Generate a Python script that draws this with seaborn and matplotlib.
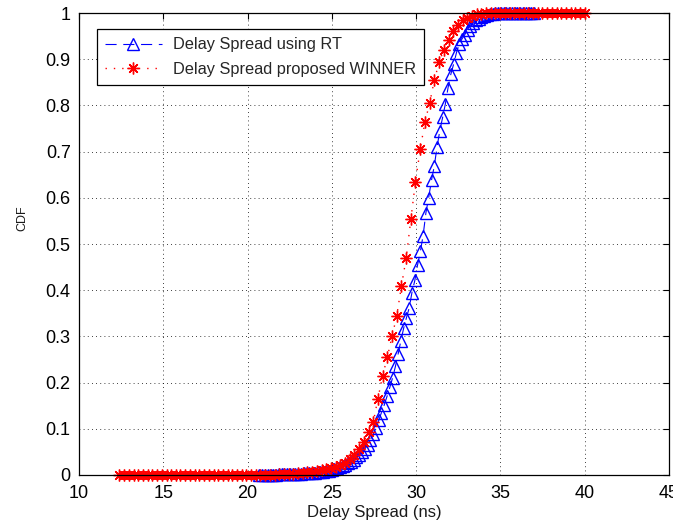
import numpy as np
import pandas as pd
import matplotlib
matplotlib.use("Agg")
import matplotlib.pyplot as plt
import seaborn as sns

# ── dados ────────────────────────────────────────────────────────────────────
rt_x = [20.70, 20.86, 21.03, 21.19, 21.36, 21.52, 21.69, 21.85, 22.02, 22.18,
        22.35, 22.51, 22.68, 22.84, 23.00, 23.17, 23.33, 23.50, 23.66, 23.83,
        23.99, 24.16, 24.32, 24.49, 24.65, 24.81, 24.98, 25.14, 25.31, 25.47,
        25.64, 25.80, 25.97, 26.13, 26.30, 26.46, 26.63, 26.79, 26.95, 27.12,
        27.28, 27.45, 27.61, 27.78, 27.94, 28.11, 28.27, 28.44, 28.60, 28.77,
        28.93, 29.09, 29.26, 29.42, 29.59, 29.75, 29.92, 30.08, 30.25, 30.41,
        30.58, 30.74, 30.91, 31.07, 31.24, 31.40, 31.57, 31.73, 31.89, 32.06,
        32.22, 32.39, 32.55, 32.72, 32.88, 33.05, 33.21, 33.38, 33.54, 33.71,
        33.87, 34.03, 34.20, 34.36, 34.53, 34.69, 34.86, 35.02, 35.19, 35.35,
        35.52, 35.68, 35.85, 36.01, 36.18, 36.34, 36.51, 36.67, 36.84, 37.00]
rt_cdf = [0.000, 0.000, 0.001, 0.001, 0.001, 0.001, 0.001, 0.002, 0.002, 0.002,
          0.002, 0.002, 0.003, 0.003, 0.003, 0.003, 0.004, 0.004, 0.004, 0.005,
          0.005, 0.006, 0.006, 0.007, 0.008, 0.009, 0.011, 0.013, 0.015, 0.017,
          0.020, 0.022, 0.026, 0.029, 0.033, 0.038, 0.043, 0.049, 0.056, 0.065,
          0.076, 0.088, 0.102, 0.118, 0.135, 0.152, 0.170, 0.190, 0.210, 0.235,
          0.262, 0.290, 0.318, 0.340, 0.362, 0.395, 0.421, 0.454, 0.484, 0.518,
          0.568, 0.600, 0.638, 0.668, 0.710, 0.745, 0.774, 0.803, 0.838, 0.868,
          0.889, 0.914, 0.932, 0.944, 0.953, 0.963, 0.971, 0.978, 0.984, 0.988,
          0.991, 0.994, 0.996, 0.997, 0.998, 0.999, 0.999, 1.000, 1.000, 1.000,
          1.000, 1.000, 1.000, 1.000, 1.000, 1.000, 1.000, 1.000, 1.000, 1.000]

winner_x = [12.40, 12.68, 12.96, 13.24, 13.52, 13.79, 14.07, 14.35, 14.63, 14.91,
            15.19, 15.47, 15.75, 16.02, 16.30, 16.58, 16.86, 17.14, 17.42, 17.70,
            17.98, 18.25, 18.53, 18.81, 19.09, 19.37, 19.65, 19.93, 20.21, 20.49,
            20.76, 21.04, 21.32, 21.60, 21.88, 22.16, 22.44, 22.72, 22.99, 23.27,
            23.55, 23.83, 24.11, 24.39, 24.67, 24.95, 25.22, 25.50, 25.78, 26.06,
            26.34, 26.62, 26.90, 27.18, 27.46, 27.73, 28.01, 28.29, 28.57, 28.85,
            29.13, 29.41, 29.69, 29.96, 30.24, 30.52, 30.80, 31.08, 31.36, 31.64,
            31.92, 32.19, 32.47, 32.75, 33.03, 33.31, 33.59, 33.87, 34.15, 34.43,
            34.70, 34.98, 35.26, 35.54, 35.82, 36.10, 36.38, 36.66, 36.93, 37.21,
            37.49, 37.77, 38.05, 38.33, 38.61, 38.89, 39.17, 39.44, 39.72, 40.00]
winner_cdf = [0.000, 0.000, 0.000, 0.000, 0.000, 0.000, 0.000, 0.000, 0.000, 0.000,
              0.000, 0.000, 0.000, 0.000, 0.000, 0.000, 0.000, 0.000, 0.000, 0.000,
              0.000, 0.000, 0.000, 0.000, 0.000, 0.000, 0.000, 0.000, 0.000, 0.000,
              0.000, 0.001, 0.001, 0.001, 0.002, 0.002, 0.003, 0.003, 0.004, 0.005,
              0.006, 0.007, 0.008, 0.010, 0.012, 0.015, 0.018, 0.022, 0.027, 0.034,
              0.043, 0.056, 0.072, 0.092, 0.115, 0.165, 0.215, 0.255, 0.300, 0.345,
              0.410, 0.470, 0.555, 0.635, 0.705, 0.764, 0.805, 0.855, 0.893, 0.921,
              0.942, 0.960, 0.974, 0.985, 0.990, 0.994, 0.997, 0.998, 0.999, 1.000,
              1.000, 1.000, 1.000, 1.000, 1.000, 1.000, 1.000, 1.000, 1.000, 1.000,
              1.000, 1.000, 1.000, 1.000, 1.000, 1.000, 1.000, 1.000, 1.000, 1.000]

x_ticks = [10, 15, 20, 25, 30, 35, 40, 45]
y_ticks = [0, 0.1, 0.2, 0.3, 0.4, 0.5, 0.6, 0.7, 0.8, 0.9, 1]
y_ticklabels = ["0", "0.1", "0.2", "0.3", "0.4", "0.5", "0.6", "0.7", "0.8", "0.9", "1"]

# ── estilo tipo MATLAB ───────────────────────────────────────────────────────
sns.set_style("white")
plt.rcParams["font.family"] = ["Liberation Sans", "DejaVu Sans"]

fig = plt.figure(figsize=(6.73, 5.27), dpi=100)
ax = fig.add_axes([0.1174, 0.0987, 0.8767, 0.8766])

sns.lineplot(x=rt_x, y=rt_cdf, ax=ax, sort=False, estimator=None,
             color="blue", linestyle=(0, (10, 6)), linewidth=0.8,
             marker="^", markersize=8.5, markerfacecolor="none",
             markeredgecolor="blue", markeredgewidth=1.0,
             label="Delay Spread using RT", clip_on=False)
sns.lineplot(x=winner_x, y=winner_cdf, ax=ax, sort=False, estimator=None,
             color="red", linestyle=(0, (1, 5)), linewidth=1.0,
             marker=(8, 2, 0), markersize=8.5, markeredgecolor="red",
             markeredgewidth=1.0,
             label="Delay Spread proposed WINNER", clip_on=False)

ax.set_xlim(10, 45)
ax.set_ylim(0, 1)
ax.set_xticks(x_ticks)
ax.set_yticks(y_ticks)
ax.set_yticklabels(y_ticklabels)
ax.grid(True, color="black", linestyle=(0, (1, 4)), linewidth=0.6)
ax.tick_params(direction="in", top=True, right=True, length=4,
               width=0.8, labelsize=13, colors="black")
ax.tick_params(axis="x", pad=7)
ax.tick_params(axis="y", pad=6)
for s in ax.spines.values():
    s.set_color("black")
    s.set_linewidth(0.9)

ax.set_xlabel("Delay Spread (ns)", fontsize=12, color="#1a1a1a")
ax.xaxis.set_label_coords(0.5, -0.064)
ax.set_ylabel("CDF", fontsize=9, color="#1a1a1a")
ax.yaxis.set_label_coords(-0.085, 0.555)

leg = ax.legend(loc="upper left", bbox_to_anchor=(0.03, 0.965), fontsize=11.75,
                frameon=True, fancybox=False, edgecolor="black", framealpha=1,
                handlelength=3.5, handletextpad=0.65, borderpad=0.5,
                labelspacing=0.6, borderaxespad=0)
leg.get_frame().set_linewidth(0.9)

fig.savefig("out.png", dpi=100)
plt.close(fig)
